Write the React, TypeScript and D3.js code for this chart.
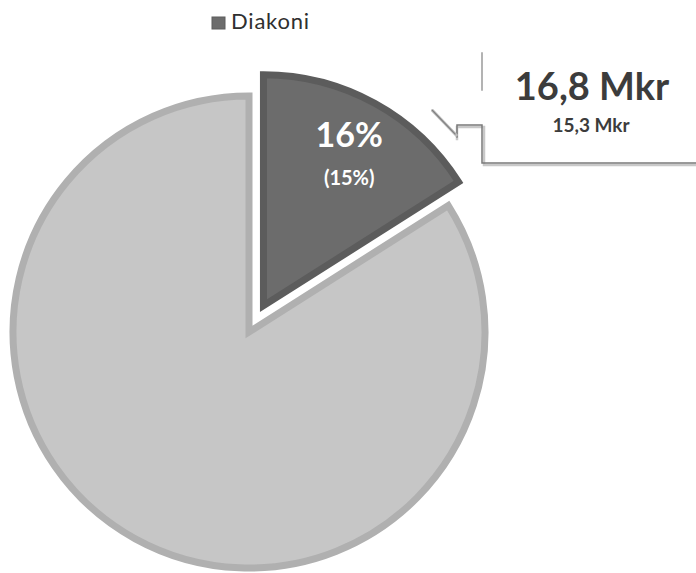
import React from 'react';
import * as d3 from 'd3';

// shares in percent, current year (previous year in brackets on the slice)
const categories = ['Diakoni', 'Övrigt'];
const shares = [16, 84];
const prevShareLabel = ['(15%)', ''];
const amountNow = '16,8 Mkr';
const amountPrev = '15,3 Mkr';
const legendItems = ['Diakoni'];

const W = 696;
const H = 573;
const FONT = 'Lato, "Open Sans", sans-serif';

const fills = ['#6c6c6c', '#c6c6c6'];
const strokes = ['#5c5c5c', '#b0b0b0'];
const radii = [231, 236];
const explode = [30, 0];

export default function App() {
    const pie = d3.pie<number>().sort(null).value(d => d);
    const arcs = pie(shares);

    const cx = 249;
    const cy = 332;

    return (
        <svg
            width={W}
            height={H}
            style={{ position: 'absolute', left: 0, top: 0, background: '#fff' }}
        >
            {/* legend */}
            <rect x={212} y={17} width={13} height={12} fill={fills[0]} stroke={strokes[0]} strokeWidth={1} />
            <text x={231} y={29} fontFamily={FONT} fontSize={22} letterSpacing={0.8} fill="#2f2f2f">
                {legendItems[0]}
            </text>

            <g transform={`translate(${cx},${cy})`}>
                {arcs.map((a, i) => {
                    const mid = (a.startAngle + a.endAngle) / 2;
                    const dx = Math.sin(mid) * explode[i];
                    const dy = -Math.cos(mid) * explode[i];
                    const arc = d3.arc<d3.PieArcDatum<number>>().innerRadius(0).outerRadius(radii[i]);
                    const labelArc = d3.arc<d3.PieArcDatum<number>>().innerRadius(178).outerRadius(178);
                    const [lx, ly] = labelArc.centroid(a);
                    return (
                        <g key={categories[i]} transform={`translate(${dx},${dy})`}>
                            <path
                                d={arc(a) || ''}
                                fill={fills[i]}
                                stroke={strokes[i]}
                                strokeWidth={7}
                                strokeLinejoin="miter"
                            />
                            {i === 0 && (
                                <g fontFamily={FONT} fontWeight="bold" fill="#fff" textAnchor="middle">
                                    <text x={lx} y={ly - 3} fontSize={34}>{`${shares[i]}%`}</text>
                                    <text x={lx} y={ly + 35} fontSize={20}>{prevShareLabel[i]}</text>
                                </g>
                            )}
                        </g>
                    );
                })}
            </g>

            {/* callout */}
            <g fill="none" strokeLinecap="square">
                <path d="M457,139 L457,127 L484,127 L484,165 L700,165" stroke="#c8c8c8" strokeWidth={2.5} />
                <path d="M482,53 L482,90" stroke="#9a9a9a" strokeWidth={1.5} />
                <path d="M457,137 L457,125 L482,125 L482,163 L700,163" stroke="#7a7a7a" strokeWidth={1.5} />
                <path d="M433,111 L456,135" stroke="#bdbdbd" strokeWidth={3} />
                <path d="M432,110 L455,134" stroke="#808080" strokeWidth={1.2} />
            </g>
            <text x={592} y={100} textAnchor="middle" fontFamily={FONT} fontWeight="bold" fontSize={38} fill="#3c3c3c">
                {amountNow}
            </text>
            <text x={591} y={132} textAnchor="middle" fontFamily={FONT} fontWeight="bold" fontSize={19} fill="#3c3c3c">
                {amountPrev}
            </text>
        </svg>
    );
}
